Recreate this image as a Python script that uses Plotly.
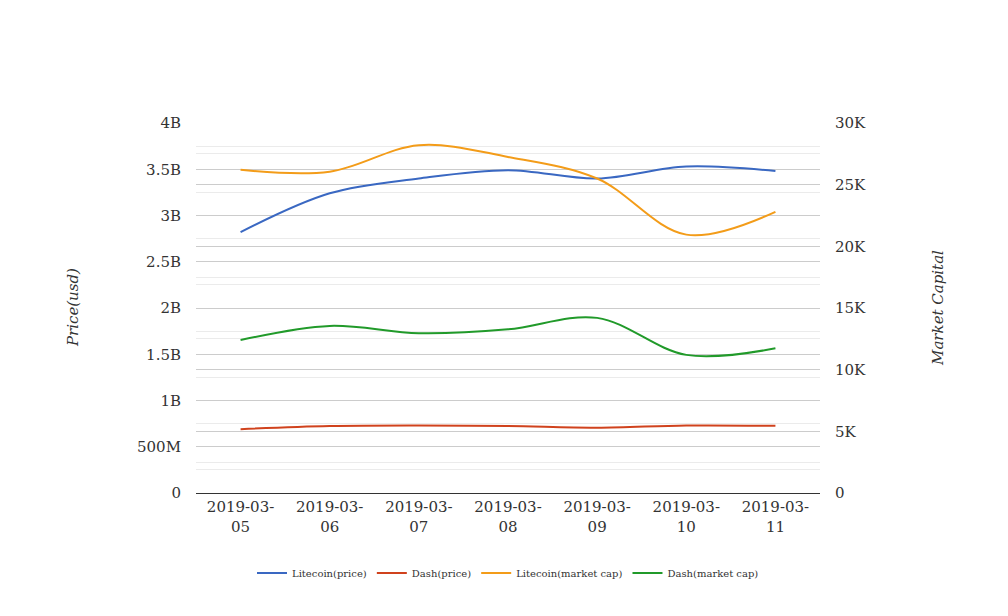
import plotly.graph_objects as go

dates = ["2019-03-05", "2019-03-06", "2019-03-07", "2019-03-08", "2019-03-09", "2019-03-10", "2019-03-11"]
date_labels = ["2019-03-<br>05", "2019-03-<br>06", "2019-03-<br>07", "2019-03-<br>08", "2019-03-<br>09", "2019-03-<br>10", "2019-03-<br>11"]

litecoin_price = [2.82e9, 3.24e9, 3.40e9, 3.49e9, 3.40e9, 3.53e9, 3.48e9]
dash_price = [0.69e9, 0.724e9, 0.73e9, 0.724e9, 0.705e9, 0.73e9, 0.726e9]
litecoin_mcap = [26200, 26050, 28200, 27250, 25500, 20950, 22800]
dash_mcap = [12400, 13550, 12950, 13270, 14200, 11200, 11730]

left_tickvals = [0, 0.5e9, 1e9, 1.5e9, 2e9, 2.5e9, 3e9, 3.5e9, 4e9]
left_ticktext = ["0", "500M", "1B", "1.5B", "2B", "2.5B", "3B", "3.5B", "4B"]
right_tickvals = [0, 5000, 10000, 15000, 20000, 25000, 30000]
right_ticktext = ["0", "5K", "10K", "15K", "20K", "25K", "30K"]

font_family = "DejaVu Serif"
colors = {"lp": "#3a68c2", "dp": "#d0421d", "lm": "#f39c19", "dm": "#219a2a"}

fig = go.Figure()
fig.add_trace(go.Scatter(x=dates, y=litecoin_price, name="Litecoin(price)", mode="lines",
                         line=dict(color=colors["lp"], width=2, shape="spline", smoothing=1)))
fig.add_trace(go.Scatter(x=dates, y=dash_price, name="Dash(price)", mode="lines",
                         line=dict(color=colors["dp"], width=2, shape="spline", smoothing=1)))
fig.add_trace(go.Scatter(x=dates, y=litecoin_mcap, name="Litecoin(market cap)", mode="lines", yaxis="y2",
                         line=dict(color=colors["lm"], width=2, shape="spline", smoothing=1)))
fig.add_trace(go.Scatter(x=dates, y=dash_mcap, name="Dash(market cap)", mode="lines", yaxis="y2",
                         line=dict(color=colors["dm"], width=2, shape="spline", smoothing=1)))

fig.update_layout(
    width=1008, height=616,
    margin=dict(l=188, r=196, t=115, b=131),
    paper_bgcolor="white", plot_bgcolor="white",
    font=dict(family=font_family, color="#333333", size=15),
    xaxis=dict(type="category", range=[-0.5, 6.5], tickvals=dates, ticktext=date_labels,
               showgrid=False, showline=True, linecolor="#333333", linewidth=1,
               ticks="", tickfont=dict(size=15, color="#333333")),
    yaxis=dict(range=[0, 4e9], tickvals=left_tickvals, ticktext=left_ticktext,
               showgrid=True, gridcolor="#cccccc", gridwidth=1, zeroline=False,
               minor=dict(dtick=0.25e9, tick0=0, showgrid=True, gridcolor="#ebebeb", gridwidth=1),
               tickfont=dict(size=15, color="#333333"), ticks="", ticklabelstandoff=14),
    yaxis2=dict(range=[0, 30000], tickvals=right_tickvals, ticktext=right_ticktext,
                overlaying="y", side="right", showgrid=True, gridcolor="#cccccc", gridwidth=1,
                zeroline=False,
                minor=dict(dtick=2500, tick0=0, showgrid=True, gridcolor="#ebebeb", gridwidth=1),
                tickfont=dict(size=15, color="#333333"), ticks="", ticklabelstandoff=14),
    legend=dict(orientation="h", x=0.5, xanchor="center", y=-0.216, yanchor="middle",
                font=dict(size=10, family=font_family, color="#333333"), itemwidth=30),
    showlegend=True,
    annotations=[
        dict(text="<i>Price(usd)</i>", xref="paper", yref="paper", x=-0.197, y=0.5,
             textangle=-90, showarrow=False, font=dict(size=15, family=font_family, color="#333333"),
             xanchor="center", yanchor="middle"),
        dict(text="<i>Market Capital</i>", xref="paper", yref="paper", x=1.189, y=0.5,
             textangle=-90, showarrow=False, font=dict(size=15, family=font_family, color="#333333"),
             xanchor="center", yanchor="middle"),
    ],
)

fig.write_html("out.html")
